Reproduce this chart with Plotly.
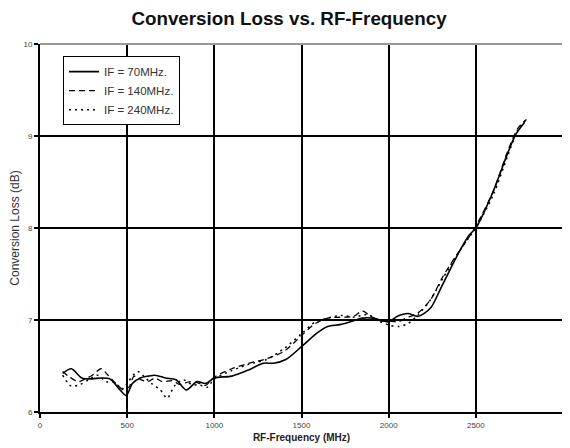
import plotly.graph_objects as go

# RF frequency (MHz) and conversion loss (dB) for three IF settings
x_70 = [130, 180, 240, 300, 350, 400, 450, 495, 530, 575, 620, 660, 720, 780, 840, 900, 950, 1000,
        1100, 1200, 1280, 1340, 1410, 1500, 1590, 1650, 1720, 1780, 1850, 1910, 2000, 2050, 2110,
        2170, 2240, 2300, 2350, 2410, 2460, 2500, 2600, 2680, 2730, 2780]
y_70 = [6.42, 6.47, 6.37, 6.36, 6.37, 6.36, 6.26, 6.18, 6.31, 6.37, 6.39, 6.40, 6.37, 6.35, 6.24, 6.33, 6.31, 6.37,
        6.39, 6.46, 6.53, 6.53, 6.57, 6.71, 6.86, 6.93, 6.95, 6.98, 7.02, 7.02, 6.98, 7.04, 7.07,
        7.04, 7.13, 7.35, 7.54, 7.76, 7.92, 8.00, 8.40, 8.80, 9.02, 9.15]

x_140 = [130, 170, 220, 260, 300, 350, 390, 440, 480, 510, 540, 580, 620, 660, 700, 760, 800, 860, 900, 950,
         1000, 1100, 1200, 1300, 1400, 1500, 1570, 1650, 1720, 1800, 1850, 1890, 1950, 2000, 2050, 2100,
         2170, 2240, 2310, 2380, 2450, 2500, 2600, 2680, 2740, 2790]
y_140 = [6.44, 6.38, 6.33, 6.36, 6.40, 6.47, 6.40, 6.30, 6.24, 6.27, 6.39, 6.35, 6.33, 6.37, 6.33, 6.34, 6.30, 6.33, 6.32, 6.29,
         6.38, 6.47, 6.53, 6.58, 6.66, 6.83, 6.95, 7.02, 7.03, 7.04, 7.10, 7.05, 6.99, 6.99, 6.98, 7.02,
         7.08, 7.22, 7.47, 7.68, 7.87, 8.02, 8.40, 8.82, 9.08, 9.18]

x_240 = [130, 180, 230, 280, 330, 380, 430, 470, 510, 560, 600, 640, 690, 730, 770, 820, 870, 920, 960,
         1000, 1100, 1200, 1300, 1400, 1500, 1580, 1650, 1730, 1800, 1880, 1950, 2010, 2060, 2110,
         2170, 2240, 2310, 2380, 2450, 2500, 2600, 2680, 2740, 2790]
y_240 = [6.40, 6.28, 6.30, 6.35, 6.40, 6.33, 6.32, 6.25, 6.34, 6.44, 6.38, 6.31, 6.24, 6.15, 6.28, 6.35, 6.30, 6.29, 6.27,
         6.36, 6.45, 6.52, 6.57, 6.69, 6.85, 6.98, 7.02, 7.05, 7.03, 7.06, 6.98, 6.94, 6.93, 6.96,
         7.06, 7.22, 7.45, 7.67, 7.87, 8.00, 8.36, 8.77, 9.06, 9.18]

x_ticks = [0, 500, 1000, 1500, 2000, 2500, 3000]
y_ticks = [6, 7, 8, 9, 10]

FONT = "Liberation Sans, Arial, sans-serif"

fig = go.Figure()
fig.add_trace(go.Scatter(x=x_70, y=y_70, mode="lines", name="IF = 70MHz.",
                         line=dict(color="black", width=1.6, shape="spline", smoothing=0.8)))
fig.add_trace(go.Scatter(x=x_140, y=y_140, mode="lines", name="IF = 140MHz.",
                         line=dict(color="black", width=1.3, dash="6px,4px", shape="spline", smoothing=0.8)))
fig.add_trace(go.Scatter(x=x_240, y=y_240, mode="lines", name="IF = 240MHz.",
                         line=dict(color="black", width=1.5, dash="2px,4px", shape="spline", smoothing=0.8)))

# the page body has an 8px default margin, so the figure is sized to fit inside the window
fig.update_layout(
    width=562, height=440,
    margin=dict(l=32, r=7, t=36, b=36),
    paper_bgcolor="white", plot_bgcolor="white",
    font=dict(family=FONT, color="#222"),
    title=dict(text="<b>Conversion Loss vs. RF-Frequency</b>", x=0.5, xanchor="center",
               y=1 - 10 / 440, yanchor="middle", font=dict(size=18.8, color="#111", family=FONT)),
    showlegend=True,
    legend=dict(x=0.044, y=0.967, xanchor="left", yanchor="top",
                bordercolor="black", borderwidth=1, bgcolor="white",
                font=dict(size=11.5, family=FONT, color="#333"),
                itemwidth=30),
    xaxis=dict(range=[0, 3000], tickvals=x_ticks, ticktext=[str(v) for v in x_ticks],
               showgrid=True, gridcolor="black", gridwidth=1.5,
               showline=True, linecolor="black", linewidth=2,
               ticks="outside", ticklen=4, tickcolor="black", tickwidth=1.5,
               tickfont=dict(size=8, color="#444"), zeroline=False, automargin=False,
               title=dict(text="<b>RF-Frequency (MHz)</b>", font=dict(size=10, color="#222"), standoff=5)),
    yaxis=dict(range=[6, 10], tickvals=y_ticks, ticktext=[str(v) for v in y_ticks],
               showgrid=True, gridcolor="black", gridwidth=1.5,
               showline=True, linecolor="black", linewidth=2,
               ticks="outside", ticklen=4, tickcolor="black", tickwidth=1.5,
               tickfont=dict(size=8, color="#444"), zeroline=False, automargin=False,
               title=dict(text="Conversion Loss (dB)", font=dict(size=12, color="#333"), standoff=3)),
    shapes=[
        dict(type="line", xref="paper", yref="paper", x0=0, x1=1, y0=1, y1=1,
             line=dict(color="#999", width=2)),
        dict(type="line", xref="paper", yref="paper", x0=1, x1=1, y0=0, y1=1,
             line=dict(color="#999", width=2)),
    ],
)

fig.write_html("out.html")
